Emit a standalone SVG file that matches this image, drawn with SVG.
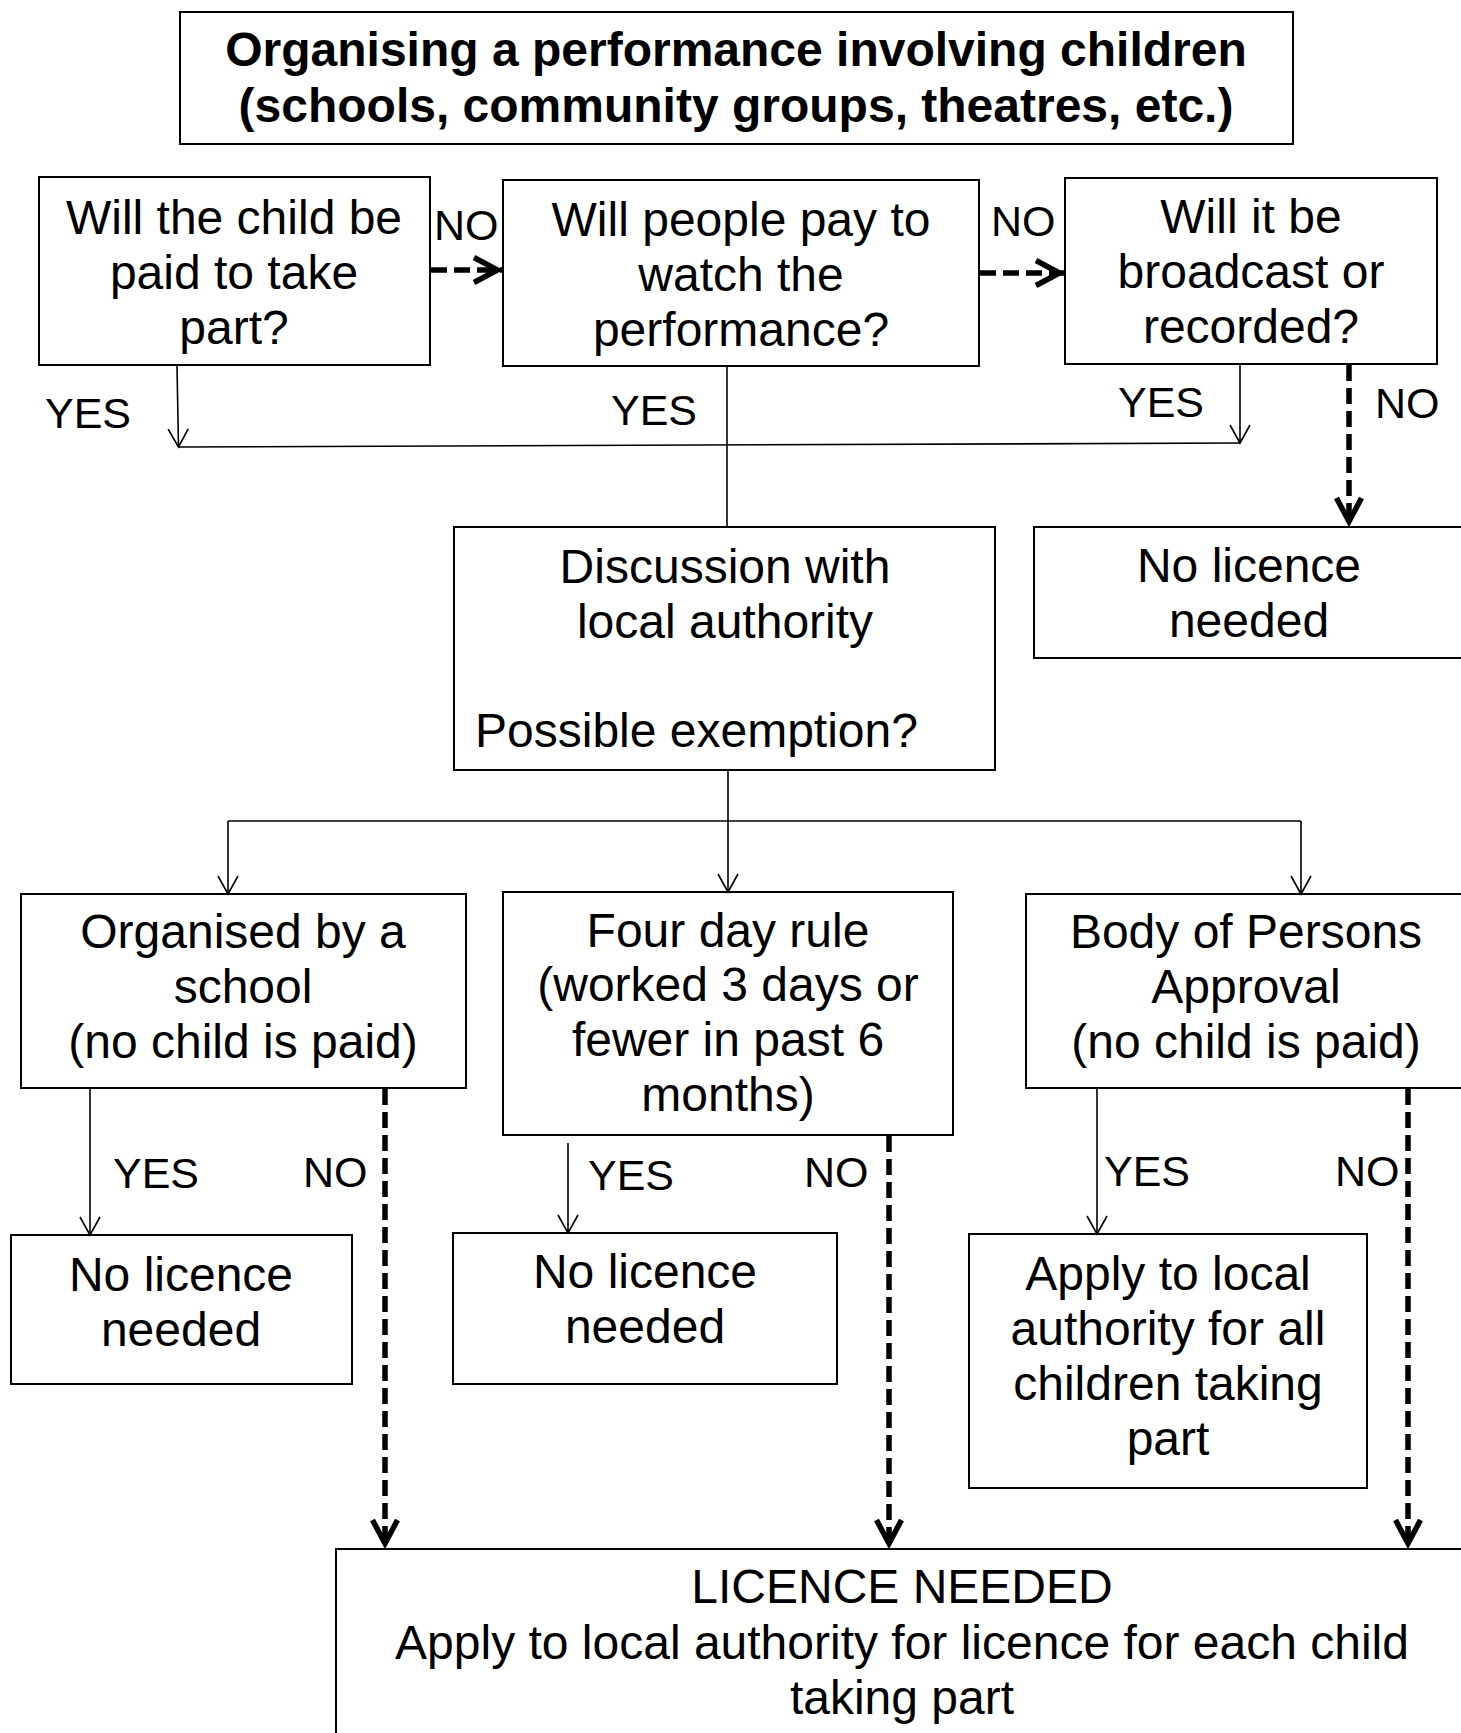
<svg xmlns="http://www.w3.org/2000/svg" width="1461" height="1733" viewBox="0 0 1461 1733">
<defs>
<style>
.box{fill:#fff;stroke:#000;stroke-width:2}
.t{font-family:"Liberation Sans",Arial,sans-serif;font-size:48px;fill:#000;text-anchor:middle}
.lb{font-family:"Liberation Sans",Arial,sans-serif;font-size:43px;fill:#000}
.ttl{font-family:"Liberation Sans",Arial,sans-serif;font-size:48px;font-weight:bold;fill:#000;text-anchor:middle}
.thin{fill:none;stroke:#000;stroke-width:1.6}
.dash{fill:none;stroke:#000;stroke-width:5.5;stroke-dasharray:16 7}
</style>
<marker id="vthin" markerUnits="userSpaceOnUse" viewBox="-22 -14 24 28" markerWidth="24" markerHeight="28" refX="0" refY="0" orient="auto" overflow="visible">
<path d="M-18,-10 L0,0 L-18,10" fill="none" stroke="#000" stroke-width="1.6"/>
</marker>
<marker id="chev" markerUnits="userSpaceOnUse" viewBox="-34 -18 36 36" markerWidth="36" markerHeight="36" refX="0" refY="0" orient="auto" overflow="visible">
<path d="M-29,-12.5 L-5.5,0 L-29,12.5" fill="none" stroke="#000" stroke-width="5.5" stroke-dasharray="none" stroke-linejoin="miter"/>
</marker>
</defs>
<rect width="1461" height="1733" fill="#fff"/>

<g id="title">
<rect class="box" x="180" y="12" width="1113" height="132"/>
<text class="ttl" x="736" y="66">Organising a performance involving children</text>
<text class="ttl" x="736" y="122">(schools, community groups, theatres, etc.)</text>
</g>

<g id="q-paid">
<rect class="box" x="39" y="177" width="391" height="188"/>
<text class="t" x="234" y="234">Will the child be</text>
<text class="t" x="234" y="289">paid to take</text>
<text class="t" x="234" y="344">part?</text>
</g>

<g id="q-pay-watch">
<rect class="box" x="503" y="180" width="476" height="186"/>
<text class="t" x="741" y="236">Will people pay to</text>
<text class="t" x="741" y="291">watch the</text>
<text class="t" x="741" y="346">performance?</text>
</g>

<g id="q-broadcast">
<rect class="box" x="1065" y="178" width="372" height="186"/>
<text class="t" x="1251" y="233">Will it be</text>
<text class="t" x="1251" y="288">broadcast or</text>
<text class="t" x="1251" y="343">recorded?</text>
</g>

<g id="no-licence-top">
<rect class="box" x="1034" y="527" width="440" height="131"/>
<text class="t" x="1249" y="582">No licence</text>
<text class="t" x="1249" y="637">needed</text>
</g>

<g id="discussion">
<rect class="box" x="454" y="527" width="541" height="243"/>
<text class="t" x="725" y="583">Discussion with</text>
<text class="t" x="725" y="638">local authority</text>
<text class="t" x="475" y="747" style="text-anchor:start">Possible exemption?</text>
</g>

<g id="school">
<rect class="box" x="21" y="894" width="445" height="194"/>
<text class="t" x="243" y="948">Organised by a</text>
<text class="t" x="243" y="1003">school</text>
<text class="t" x="243" y="1058">(no child is paid)</text>
</g>

<g id="four-day">
<rect class="box" x="503" y="892" width="450" height="243"/>
<text class="t" x="728" y="947">Four day rule</text>
<text class="t" x="728" y="1001">(worked 3 days or</text>
<text class="t" x="728" y="1056">fewer in past 6</text>
<text class="t" x="728" y="1111">months)</text>
</g>

<g id="body-persons">
<rect class="box" x="1026" y="894" width="450" height="194"/>
<text class="t" x="1246" y="948">Body of Persons</text>
<text class="t" x="1246" y="1003">Approval</text>
<text class="t" x="1246" y="1058">(no child is paid)</text>
</g>

<g id="no-licence-school">
<rect class="box" x="11" y="1235" width="341" height="149"/>
<text class="t" x="181" y="1291">No licence</text>
<text class="t" x="181" y="1346">needed</text>
</g>

<g id="no-licence-four-day">
<rect class="box" x="453" y="1233" width="384" height="151"/>
<text class="t" x="645" y="1288">No licence</text>
<text class="t" x="645" y="1343">needed</text>
</g>

<g id="apply-all">
<rect class="box" x="969" y="1234" width="398" height="254"/>
<text class="t" x="1168" y="1290">Apply to local</text>
<text class="t" x="1168" y="1345">authority for all</text>
<text class="t" x="1168" y="1400">children taking</text>
<text class="t" x="1168" y="1455">part</text>
</g>

<g id="licence-needed">
<rect class="box" x="336" y="1549" width="1140" height="200"/>
<text class="t" x="902" y="1603">LICENCE NEEDED</text>
<text class="t" x="902" y="1659">Apply to local authority for licence for each child</text>
<text class="t" x="902" y="1714">taking part</text>
</g>

<g id="connectors">
<path class="dash" d="M431,270 H503" marker-end="url(#chev)"/>
<path class="dash" d="M980,273 H1065" marker-end="url(#chev)"/>
<path class="dash" d="M1349,365 V527" marker-end="url(#chev)"/>
<path class="dash" d="M385,1089 V1549" marker-end="url(#chev)"/>
<path class="dash" d="M889,1136 V1549" marker-end="url(#chev)"/>
<path class="dash" d="M1408,1089 V1549" marker-end="url(#chev)"/>

<path class="thin" d="M177,366 L178.5,447" marker-end="url(#vthin)"/>
<path class="thin" d="M178,447 L1240,443"/>
<path class="thin" d="M1240,365 V443" marker-end="url(#vthin)"/>
<path class="thin" d="M727,367 V527"/>
<path class="thin" d="M728,771 V892" marker-end="url(#vthin)"/>
<path class="thin" d="M228,821 H1301"/>
<path class="thin" d="M228,821 V894" marker-end="url(#vthin)"/>
<path class="thin" d="M1301,821 V894" marker-end="url(#vthin)"/>
<path class="thin" d="M90,1089 V1235" marker-end="url(#vthin)"/>
<path class="thin" d="M568,1143 V1233" marker-end="url(#vthin)"/>
<path class="thin" d="M1097,1089 V1234" marker-end="url(#vthin)"/>

<text class="lb" x="434" y="240">NO</text>
<text class="lb" x="991" y="236">NO</text>
<text class="lb" x="45" y="428">YES</text>
<text class="lb" x="611" y="425">YES</text>
<text class="lb" x="1118" y="417">YES</text>
<text class="lb" x="1375" y="418">NO</text>
<text class="lb" x="113" y="1188">YES</text>
<text class="lb" x="303" y="1187">NO</text>
<text class="lb" x="588" y="1190">YES</text>
<text class="lb" x="804" y="1187">NO</text>
<text class="lb" x="1104" y="1186">YES</text>
<text class="lb" x="1335" y="1186">NO</text>
</g>
</svg>
